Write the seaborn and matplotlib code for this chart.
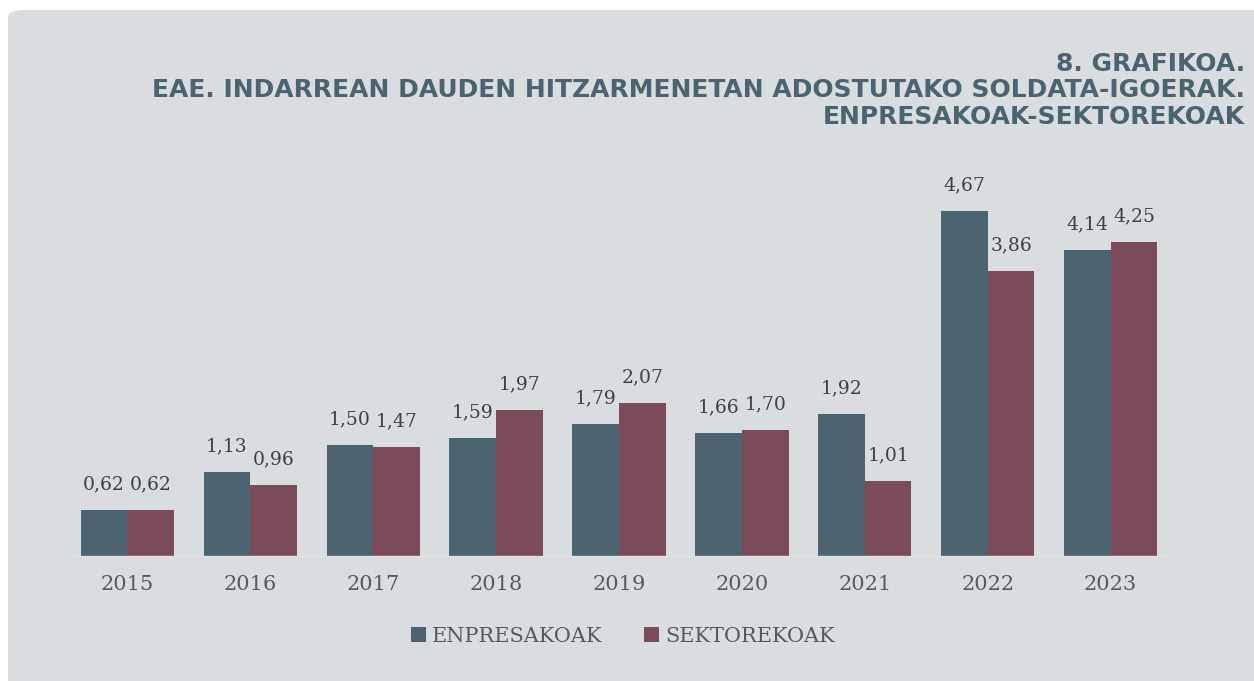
import matplotlib
matplotlib.use("Agg")
import matplotlib.pyplot as plt
from matplotlib.patches import FancyBboxPatch
import numpy as np
import pandas as pd
import seaborn as sns

# Data
years = ["2015", "2016", "2017", "2018", "2019", "2020", "2021", "2022", "2023"]
enpresakoak = [0.62, 1.13, 1.50, 1.59, 1.79, 1.66, 1.92, 4.67, 4.14]
sektorekoak = [0.62, 0.96, 1.47, 1.97, 2.07, 1.70, 1.01, 3.86, 4.25]
series_names = ["ENPRESAKOAK", "SEKTOREKOAK"]
title_lines = ["8. GRAFIKOA.",
               "EAE. INDARREAN DAUDEN HITZARMENETAN ADOSTUTAKO SOLDATA-IGOERAK.",
               "ENPRESAKOAK-SEKTOREKOAK"]

# Colours
bg = "#D9DDE0"
c_enp = "#4B6470"
c_sek = "#7C4B5A"
txt = "#404040"

df = pd.DataFrame({
    "year": years * 2,
    "value": enpresakoak + sektorekoak,
    "serie": [series_names[0]] * len(years) + [series_names[1]] * len(years),
})

sns.set_style("white")
plt.rcParams["font.family"] = ["DejaVu Serif", "DejaVu Sans"]

fig = plt.figure(figsize=(12.54, 6.81), dpi=100, facecolor="white")
# grey card behind the chart
card = FancyBboxPatch((8 / 1254, -0.05), 1.2, 1.05 - 10 / 681,
                      boxstyle="round,pad=0,rounding_size=0.012",
                      transform=fig.transFigure, facecolor=bg, edgecolor="none",
                      zorder=-10)
fig.patches.append(card)

ax = fig.add_axes([66 / 1254, 125 / 681, (1172 - 66) / 1254, (556 - 186.5) / 681])
ax.set_facecolor("none")

sns.barplot(data=df, x="year", y="value", hue="serie", order=years,
            hue_order=series_names, palette=[c_enp, c_sek], width=0.76,
            saturation=1, ax=ax, edgecolor="none", errorbar=None)

ax.set_ylim(0, 5.0)
ax.set_xlim(-0.5, 8.5)
for spine in ["top", "right", "left"]:
    ax.spines[spine].set_visible(False)
ax.spines["bottom"].set_color("#E6E0DA")
ax.spines["bottom"].set_linewidth(1.0)
ax.set_yticks([])
ax.set_xlabel("")
ax.set_ylabel("")
ax.tick_params(axis="x", length=0, pad=14, labelsize=15, labelcolor="#595959")

# value labels
for cont in ax.containers:
    labels = [f"{v:.2f}".replace(".", ",") for v in cont.datavalues]
    ax.bar_label(cont, labels=labels, padding=12, fontsize=13.5, color=txt)

# legend
handles, labs = ax.get_legend_handles_labels()
ax.legend(handles, labs, loc="center", bbox_to_anchor=(623 / 1254, 1 - 636 / 681),
          bbox_transform=fig.transFigure, ncol=2, frameon=False,
          handlelength=0.7, handleheight=0.7, handletextpad=0.3,
          columnspacing=2.0, prop={"size": 15})
for t in ax.get_legend().get_texts():
    t.set_color("#595959")

# title block, right aligned
ys = [64, 90, 117]
for line, y in zip(title_lines, ys):
    fig.text(1245 / 1254, 1 - y / 681, line, ha="right", va="center",
             fontsize=18, fontweight="heavy", color=c_enp,
             family=["DejaVu Sans"])

fig.savefig("out.png", dpi=100, facecolor="white")
